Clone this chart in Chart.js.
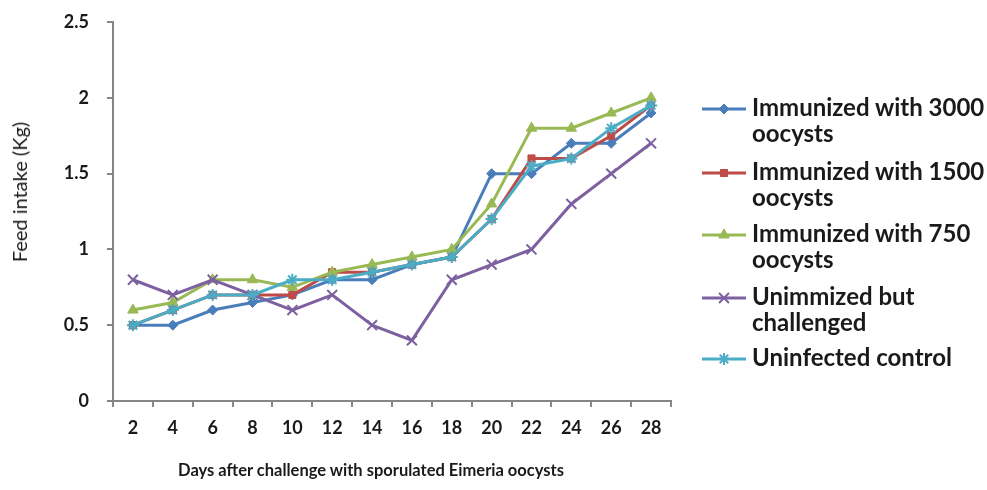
<!DOCTYPE html>
<html>
<head>
<meta charset="utf-8">
<script src="https://cdn.jsdelivr.net/npm/chart.js@4.4.0/dist/chart.umd.min.js"></script>
<style>
  html, body { margin: 0; padding: 0; background: #fff; }
  #wrap { position: relative; width: 987px; height: 490px; overflow: hidden; font-family: Lato, "Open Sans", sans-serif; color: #1a1a1a; }
  #cbox { position: absolute; left: 0; top: 0; width: 740px; height: 490px; }
  #legend { position: absolute; left: 700px; top: 0; width: 287px; height: 490px; font-weight: bold; }
  .item { position: absolute; left: 0; display: flex; align-items: flex-start; }
  .item canvas { display: block; }
  .txt { font-size: 24px; line-height: 26px; margin-left: 4px; white-space: nowrap; }
  #xtitle { position: absolute; left: 371px; top: 470px; transform: translate(-50%, -50%); font-size: 16.5px; font-weight: bold; white-space: nowrap; }
  #ytitle { position: absolute; left: 19px; top: 192px; transform: translate(-50%, -50%) rotate(-90deg); font-size: 20px; font-weight: normal; white-space: nowrap; }
</style>
</head>
<body>
<div id="wrap">
  <div id="cbox"><canvas id="c"></canvas></div>
  <div id="legend"></div>
  <div id="xtitle"></div>
  <div id="ytitle"></div>
</div>
<script>
const days = ["2","4","6","8","10","12","14","16","18","20","22","24","26","28"];
const immunized3000 = [0.5,0.5,0.6,0.65,0.7,0.8,0.8,0.9,0.95,1.5,1.5,1.7,1.7,1.9];
const immunized1500 = [0.5,0.6,0.7,0.7,0.7,0.85,0.85,0.9,0.95,1.2,1.6,1.6,1.75,1.95];
const immunized750  = [0.6,0.65,0.8,0.8,0.75,0.85,0.9,0.95,1.0,1.3,1.8,1.8,1.9,2.0];
const unimmunized   = [0.8,0.7,0.8,0.7,0.6,0.7,0.5,0.4,0.8,0.9,1.0,1.3,1.5,1.7];
const uninfected    = [0.5,0.6,0.7,0.7,0.8,0.8,0.85,0.9,0.95,1.2,1.55,1.6,1.8,1.95];
const seriesNames = [
  ["Immunized with 3000", "oocysts"],
  ["Immunized with 1500", "oocysts"],
  ["Immunized with 750", "oocysts"],
  ["Unimmized but", "challenged"],
  ["Uninfected control"]
];
const yTicks = [0, 0.5, 1, 1.5, 2, 2.5];
const xTitle = "Days after challenge with sporulated Eimeria oocysts";
const yTitle = "Feed intake (Kg)";

document.getElementById("xtitle").textContent = xTitle;
document.getElementById("ytitle").textContent = yTitle;

const colors = ["#4A7EBB", "#BE4B48", "#98B954", "#7D60A0", "#4BACC6"];
const styles = ["rectRot", "rect", "triangle", "crossRot", "star"];
const radii = [5, 5, 6, 7, 6];
const values = [immunized3000, immunized1500, immunized750, unimmunized, uninfected];

const datasets = values.map((v, i) => ({
  label: seriesNames[i].join(" "),
  data: v,
  borderColor: colors[i],
  backgroundColor: colors[i],
  pointStyle: styles[i],
  pointRadius: radii[i],
  pointBorderColor: colors[i],
  pointBackgroundColor: colors[i],
  pointBorderWidth: (styles[i] === "crossRot" || styles[i] === "star") ? 2 : 1,
  borderWidth: 3,
  tension: 0,
  order: 4 - i
}));

const xTickFont = { family: "Lato, 'Open Sans', sans-serif", size: 18, weight: "bold" };
const yTickFont = { family: "Lato, 'Open Sans', sans-serif", size: 18, weight: "bold", lineHeight: 0.45 };

new Chart(document.getElementById("c"), {
  type: "line",
  data: { labels: days, datasets },
  options: {
    responsive: true,
    maintainAspectRatio: false,
    animation: false,
    layout: { padding: { top: 0, right: 69, left: 0, bottom: 0 } },
    plugins: {
      legend: { display: false },
      tooltip: { enabled: false },
      title: { display: false }
    },
    scales: {
      x: {
        type: "category",
        offset: true,
        afterFit: (s) => { s.height = 89; },
        grid: { display: true, drawOnChartArea: false, offset: true, tickLength: 6, color: "#868686", lineWidth: 2 },
        border: { display: true, color: "#868686", width: 2 },
        ticks: { color: "#1a1a1a", font: xTickFont, padding: 10, maxRotation: 0, autoSkip: false }
      },
      y: {
        min: 0, max: 2.5,
        afterFit: (s) => { s.width = 113; },
        afterBuildTicks: (axis) => { axis.ticks = yTicks.map(v => ({ value: v })); },
        grid: { display: true, drawOnChartArea: false, tickLength: 6, color: "#868686", lineWidth: 2 },
        border: { display: true, color: "#868686", width: 2 },
        ticks: { color: "#1a1a1a", font: yTickFont, padding: 18, callback: (v) => String(v) }
      }
    }
  }
});

// HTML legend (multi-line labels)
const legendTops = [94, 158, 220, 283, 344];
const legend = document.getElementById("legend");
seriesNames.forEach((lines, i) => {
  const item = document.createElement("div");
  item.className = "item";
  item.style.top = legendTops[i] + "px";
  const cv = document.createElement("canvas");
  cv.width = 48; cv.height = 28;
  const ctx = cv.getContext("2d");
  ctx.strokeStyle = colors[i];
  ctx.lineWidth = 3;
  ctx.beginPath(); ctx.moveTo(2, 15); ctx.lineTo(46, 15); ctx.stroke();
  ctx.fillStyle = colors[i];
  ctx.lineWidth = (styles[i] === "crossRot" || styles[i] === "star") ? 2 : 1;
  Chart.helpers.drawPoint(ctx, { pointStyle: styles[i], radius: radii[i], rotation: 0, borderWidth: ctx.lineWidth }, 24, 15);
  item.appendChild(cv);
  const t = document.createElement("div");
  t.className = "txt";
  lines.forEach((s, k) => {
    if (k) t.appendChild(document.createElement("br"));
    t.appendChild(document.createTextNode(s));
  });
  item.appendChild(t);
  legend.appendChild(item);
});
</script>
</body>
</html>
